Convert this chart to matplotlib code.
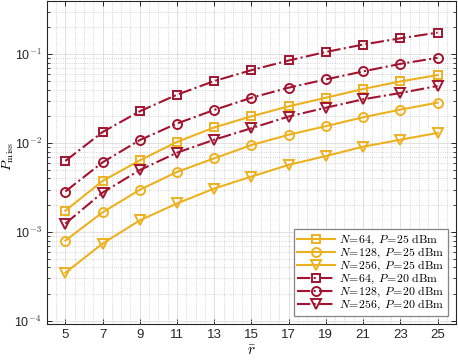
import numpy as np
import matplotlib.pyplot as plt
from matplotlib.ticker import FixedLocator, LogLocator, FuncFormatter, MultipleLocator, NullFormatter

plt.rcParams['mathtext.fontset'] = 'cm'
plt.rcParams['font.family'] = ['Liberation Sans', 'DejaVu Sans']

r = [5, 7, 9, 11, 13, 15, 17, 19, 21, 23, 25]
# P = 25 dBm
p64_25 = [1.73e-3, 3.75e-3, 6.38e-3, 1.03e-2, 1.50e-2, 2.00e-2, 2.59e-2, 3.24e-2, 4.06e-2, 4.94e-2, 5.82e-2]
p128_25 = [7.98e-4, 1.66e-3, 2.98e-3, 4.73e-3, 6.73e-3, 9.50e-3, 1.24e-2, 1.55e-2, 1.95e-2, 2.38e-2, 2.85e-2]
p256_25 = [3.47e-4, 7.39e-4, 1.35e-3, 2.09e-3, 3.08e-3, 4.20e-3, 5.68e-3, 7.15e-3, 9.10e-3, 1.09e-2, 1.30e-2]
# P = 20 dBm
p64_20 = [6.29e-3, 1.33e-2, 2.28e-2, 3.50e-2, 4.99e-2, 6.62e-2, 8.50e-2, 0.106, 0.1285, 0.151, 0.175]
p128_20 = [2.85e-3, 6.07e-3, 1.08e-2, 1.66e-2, 2.36e-2, 3.24e-2, 4.20e-2, 5.21e-2, 6.40e-2, 7.79e-2, 9.10e-2]
p256_20 = [1.24e-3, 2.77e-3, 4.97e-3, 7.79e-3, 1.09e-2, 1.47e-2, 1.99e-2, 2.50e-2, 3.11e-2, 3.66e-2, 4.39e-2]

labels = [r'$N\!=\!64,\ P\!=\!25\ \mathrm{dBm}$', r'$N\!=\!128,\ P\!=\!25\ \mathrm{dBm}$',
          r'$N\!=\!256,\ P\!=\!25\ \mathrm{dBm}$', r'$N\!=\!64,\ P\!=\!20\ \mathrm{dBm}$',
          r'$N\!=\!128,\ P\!=\!20\ \mathrm{dBm}$', r'$N\!=\!256,\ P\!=\!20\ \mathrm{dBm}$']

yellow = '#EDB120'
red = '#A2142F'

fig = plt.figure(figsize=(4.58, 3.6), dpi=100)
ax = fig.add_axes([0.102, 0.1, 0.894, 0.898])

series = [(p64_25, yellow, '-', 's'), (p128_25, yellow, '-', 'o'), (p256_25, yellow, '-', 'v'),
          (p64_20, red, '-.', 's'), (p128_20, red, '-.', 'o'), (p256_20, red, '-.', 'v')]
for (vals, c, ls, m), lab in zip(series, labels):
    ms = 6.5 if m != 's' else 5.5
    ax.plot(r, vals, color=c, linestyle=ls, marker=m, markersize=ms, markerfacecolor='none',
            markeredgewidth=1.4, linewidth=1.5, label=lab)

ax.set_yscale('log')
ax.set_xlim(4, 26)
ax.set_ylim(9.2e-5, 0.4)
ax.xaxis.set_major_locator(FixedLocator(r))
ax.xaxis.set_minor_locator(MultipleLocator(0.5))
ax.yaxis.set_major_locator(LogLocator(base=10, numticks=10))
ax.yaxis.set_minor_locator(LogLocator(base=10, subs=np.arange(2, 10), numticks=20))
ax.yaxis.set_minor_formatter(NullFormatter())
ax.yaxis.set_major_formatter(FuncFormatter(lambda v, p: r'10$^{\mathsf{%d}}$' % int(round(np.log10(v)))))

ax.grid(which='major', color='#dcdcdc', linestyle='-', linewidth=0.6)
ax.grid(which='minor', color='#c8c8c8', linestyle=':', linewidth=0.6)
ax.set_axisbelow(True)

ax.tick_params(which='both', direction='in', top=True, right=True, colors='#262626', labelsize=9)
ax.tick_params(which='major', length=3.5, width=0.7)
ax.tick_params(which='minor', length=2, width=0.6)
ax.tick_params(axis='x', which='minor', length=0)
ax.tick_params(axis='x', labelsize=9.5)
for s in ax.spines.values():
    s.set_color('#262626')
    s.set_linewidth(0.8)

ax.set_xlabel(r'$\bar{r}$', fontsize=11, labelpad=2)
ax.set_ylabel(r'$P_{\rm miss}$', fontsize=10)
ax.yaxis.set_label_coords(-0.075, 0.518)

leg = ax.legend(loc='lower right', fontsize=8.5, handlelength=3.2, handletextpad=0.35,
                labelspacing=-0.12, borderpad=0.3, borderaxespad=0.7, fancybox=False,
                framealpha=1, edgecolor='#858585')
leg.get_frame().set_linewidth(0.9)

plt.savefig('out.png', dpi=100)
